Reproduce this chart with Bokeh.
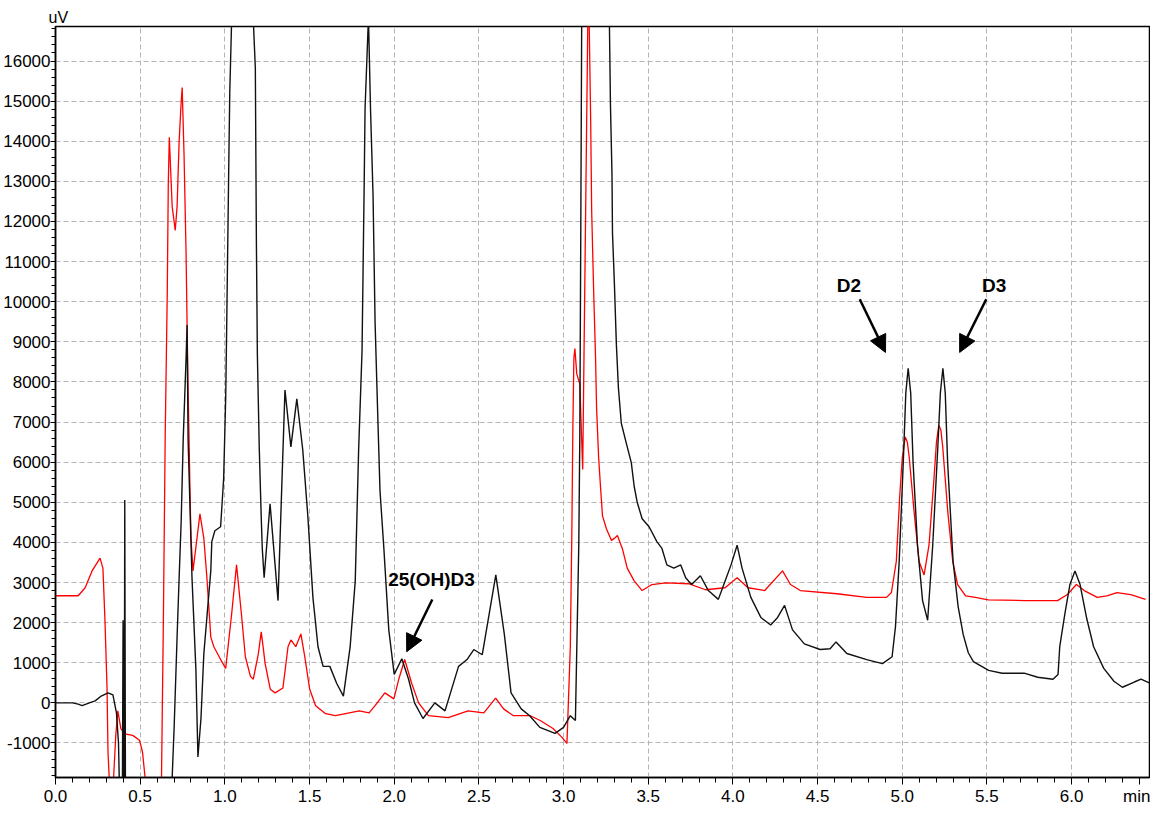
from bokeh.plotting import figure
from bokeh.models import (Range1d, SingleIntervalTicker, FixedTicker,
                          NumeralTickFormatter, Label, Arrow, NormalHead)
from bokeh.embed import file_html
from bokeh.resources import INLINE

# ---------------- data (retention time in min, signal in uV) ----------------
black_t = [0.0, 0.10, 0.134, 0.157, 0.20, 0.234, 0.27, 0.31, 0.339, 0.36, 0.372,
           0.378, 0.395, 0.399, 0.403, 0.406, 0.409, 0.413, 0.68, 0.689, 0.701,
           0.718, 0.730, 0.742, 0.754, 0.771, 0.777, 0.783, 0.794, 0.806, 0.829,
           0.841, 0.859, 0.876, 0.894, 0.917, 0.923, 0.941, 0.975, 0.993, 1.005,
           1.011, 1.017, 1.023, 1.029, 1.040, 1.10, 1.16, 1.180, 1.186, 1.192,
           1.203, 1.215, 1.221, 1.232, 1.267, 1.314, 1.355, 1.39, 1.425, 1.46,
           1.49, 1.52, 1.55, 1.58, 1.62, 1.66, 1.70, 1.74, 1.77, 1.79, 1.81,
           1.822, 1.828, 1.848, 1.860, 1.875, 1.887, 1.904, 1.916, 1.939, 1.968,
           2.0, 2.045, 2.085, 2.12, 2.17, 2.24, 2.30, 2.38, 2.43, 2.47, 2.52,
           2.60, 2.65, 2.69, 2.75, 2.80, 2.86, 2.95, 3.00, 3.04, 3.07, 3.09,
           3.096, 3.102, 3.107, 3.15, 3.22, 3.271, 3.277, 3.286, 3.289, 3.300,
           3.312, 3.324, 3.341, 3.370, 3.400, 3.417, 3.435, 3.464, 3.505, 3.551,
           3.581, 3.610, 3.651, 3.692, 3.721, 3.756, 3.808, 3.855, 3.914, 3.954,
           3.989, 4.025, 4.054, 4.106, 4.165, 4.223, 4.264, 4.305, 4.352, 4.422,
           4.515, 4.574, 4.609, 4.673, 4.790, 4.883, 4.94, 4.96, 4.982, 5.006,
           5.021, 5.035, 5.050, 5.064, 5.09, 5.12, 5.15, 5.18, 5.21, 5.225,
           5.24, 5.254, 5.268, 5.30, 5.33,
           5.36, 5.39, 5.42, 5.51, 5.59, 5.72, 5.80, 5.89, 5.92, 5.93, 5.96,
           5.99, 6.02, 6.05, 6.09, 6.13, 6.19, 6.25, 6.30, 6.37, 6.41, 6.50]
black_uv = [0, 0, -30, -70, 0, 50, 170, 250, 200, -250, -1000,
            -2200, -2200, 2060, -2200, -2200, 5060, -2200, -2200, -1860, -560,
            1640, 3120, 4510, 6550, 8590, 9420, 6550, 4910, 3120, 830,
            -1350, -390, 1230, 2130, 3290, 4020, 4290, 4390, 5600, 7610,
            9420, 11390, 13350, 15210, 17000, 19500, 17800, 15830, 11630, 8690,
            6380, 4600, 3850, 3120, 4960, 2550, 7800, 6380, 7580, 6310,
            4660, 2630, 1400, 910, 910, 490, 170, 1400, 3040, 6310, 8760,
            12680, 14820, 17100, 14820, 12680, 9500, 7000, 5300, 3850, 1820,
            710, 1100, 590, 0, -390, 0, -200, 910, 1080, 1330, 1200,
            3190, 1720, 250, -150, -320, -610, -760, -610, -320, -440, 3950,
            6630, 11950, 16860, 19500, 19500, 16860, 14900, 13180, 11710, 10480,
            8930, 7850, 6970, 6480, 5990, 5400, 5000, 4590, 4390, 4020,
            3850, 3440, 3360, 3440, 3120, 2950, 3170, 2800, 2580, 3040,
            3440, 3930, 3360, 2630, 2130, 1940, 2130, 2430, 1820, 1470,
            1330, 1350, 1520, 1230, 1080, 980, 1150, 1900, 3530, 5990,
            7720, 8340, 7720, 5990, 3930, 2550, 2060, 3930, 6380, 7720,
            8340, 7720, 5990, 3530, 2400,
            1700, 1250, 1030, 810, 740, 740, 640, 590, 710, 1400, 2210,
            2950, 3290, 2950, 2090, 1400, 860, 540, 390, 520, 590, 420]

red_t = [0.0, 0.134, 0.175, 0.216, 0.263, 0.280, 0.292, 0.304, 0.310, 0.321,
         0.339, 0.356, 0.368, 0.386, 0.409, 0.456, 0.496, 0.514, 0.537, 0.625,
         0.637, 0.648, 0.660, 0.666, 0.672, 0.689, 0.707, 0.718, 0.730, 0.742,
         0.748, 0.759, 0.771, 0.777, 0.783, 0.789, 0.794, 0.800, 0.812, 0.853,
         0.876, 0.894, 0.917, 0.935, 0.975, 1.005, 1.040, 1.069, 1.098, 1.121,
         1.151, 1.168, 1.198, 1.215, 1.238, 1.268, 1.297, 1.343, 1.373, 1.390,
         1.419, 1.449, 1.472, 1.501, 1.536, 1.595, 1.653, 1.735, 1.793, 1.852,
         1.887, 1.945, 1.998, 2.027, 2.062, 2.103, 2.144, 2.202, 2.319, 2.436,
         2.529, 2.599, 2.646, 2.704, 2.804, 2.862, 2.938, 2.991, 3.020, 3.040,
         3.049, 3.055, 3.061, 3.067, 3.078, 3.096, 3.113, 3.125, 3.143, 3.150,
         3.160, 3.166, 3.178, 3.189, 3.195, 3.207, 3.218, 3.230, 3.253, 3.283,
         3.300, 3.318, 3.347, 3.376, 3.417, 3.464, 3.522, 3.604, 3.738, 3.838,
         3.954, 4.025, 4.089, 4.188, 4.293, 4.340, 4.398, 4.614, 4.790, 4.907,
         4.936, 4.965, 4.985, 5.000, 5.018, 5.030, 5.041, 5.070, 5.099, 5.129,
         5.158, 5.187, 5.202, 5.216, 5.228, 5.239, 5.269, 5.298, 5.327, 5.374,
         5.432, 5.508, 5.724, 5.917,
         5.975, 6.028, 6.075, 6.151, 6.209, 6.268, 6.349, 6.437]
red_uv = [2670, 2670, 2870, 3290, 3610, 3360, 2060, 420, -1230, -2200,
          -2200, -810, -200, -640, -770, -810, -930, -1230, -2200, -2200,
          2060, 6720, 10230, 12930, 14100, 12370, 11780, 12370, 13990, 14970,
          15340, 13670, 11210, 9420, 7780, 6480, 5320, 4100, 3290, 4710,
          4100, 3120, 1640, 1400, 1080, 860, 2210, 3440, 2210, 1150,
          660, 590, 1230, 1770, 980, 340, 250, 370, 1400, 1570,
          1400, 1720, 1150, 340, -70, -270, -320, -250, -200, -250,
          -70, 250, 100, 590, 1080, 490, 0, -320, -370, -200,
          -250, 120, -150, -320, -320, -440, -640, -860, -1010, 1400,
          4270, 6870, 8590, 8830, 8200, 7950, 5820, 10230, 16860, 17300,
          14580, 12270, 10230, 8590, 7360, 6130, 5400, 4660, 4340, 4050,
          4100, 4170, 3850, 3360, 3040, 2800, 2950, 2990, 2970, 2820,
          2870, 3120, 2870, 2800, 3290, 2950, 2800, 2720, 2630, 2630,
          2750, 3530, 5150, 6100, 6630, 6500, 6130, 4760, 3530, 3190,
          3930, 5570, 6500, 6920, 6800, 6380, 4760, 3530, 2950, 2670,
          2630, 2570, 2550, 2550,
          2700, 2950, 2800, 2630, 2670, 2750, 2700, 2580]

# axis ticks / unit labels
x_major_ticks = [0.0, 0.5, 1.0, 1.5, 2.0, 2.5, 3.0, 3.5, 4.0, 4.5, 5.0, 5.5, 6.0]
x_minor_ticks = [i / 10 for i in range(0, 65) if i % 5 != 0]
x_unit_tick = 6.4
x_unit = "min"
y_unit = "uV"

peak_names = ["25(OH)D3", "D2", "D3"]
peak_label_t = [2.22, 4.685, 5.543]
peak_label_uv = [3070, 10405, 10405]
arrow_start_t = [2.225, 4.749, 5.496]
arrow_start_uv = [2577, 10061, 10061]
arrow_end_t = [2.074, 4.901, 5.339]
arrow_end_uv = [1276, 8736, 8736]

x_lo, x_hi = 0.0, 6.46
y_lo, y_hi = -1860, 16860

NARROW = "Liberation Sans Narrow, Arial Narrow, Liberation Sans, sans-serif"

p = figure(width=1150, height=808, output_backend="svg", toolbar_location=None,
           x_range=Range1d(x_lo, x_hi), y_range=Range1d(y_lo, y_hi),
           min_border_left=50, min_border_right=1, min_border_top=26,
           min_border_bottom=28, title=y_unit)
p.background_fill_color = "white"
p.border_fill_color = "white"
p.outline_line_color = "black"
p.outline_line_width = 1.5

p.title.align = "left"
p.title.offset = -7
p.title.standoff = 1
p.title.text_font = NARROW
p.title.text_font_size = "16px"
p.title.text_font_style = "normal"
p.title.text_color = "black"

p.xaxis.ticker = FixedTicker(ticks=x_major_ticks + [x_unit_tick],
                             minor_ticks=x_minor_ticks)
p.xaxis.formatter = NumeralTickFormatter(format="0.0")
p.xaxis.major_label_overrides = {x_unit_tick: x_unit}
p.yaxis.ticker = SingleIntervalTicker(interval=1000, num_minor_ticks=5)
p.yaxis.formatter = NumeralTickFormatter(format="0")
p.xgrid.ticker = SingleIntervalTicker(interval=0.5)

for ax in (p.xaxis[0], p.yaxis[0]):
    ax.axis_line_color = "black"
    ax.axis_line_width = 1.5
    ax.major_tick_line_color = "black"
    ax.minor_tick_line_color = "black"
    ax.major_tick_in = 0
    ax.minor_tick_in = 0
    ax.major_label_text_font = NARROW
    ax.major_label_text_font_size = "17px"
    ax.major_label_text_color = "black"
p.xaxis.major_tick_out = 7
p.xaxis.minor_tick_out = 5
p.xaxis.major_label_standoff = 2
p.yaxis.major_tick_out = 5
p.yaxis.minor_tick_out = 4
p.yaxis.major_label_standoff = 0

for g in (p.xgrid[0], p.ygrid[0]):
    g.grid_line_color = "#b4b4b4"
    g.grid_line_dash = "5 3"
    g.grid_line_width = 1

p.line(red_t, red_uv, line_color="#ff0000", line_width=1.3)
p.line(black_t, black_uv, line_color="#111111", line_width=1.4)

for name, lx, ly, xs, ys, xe, ye in zip(peak_names, peak_label_t, peak_label_uv,
                                        arrow_start_t, arrow_start_uv,
                                        arrow_end_t, arrow_end_uv):
    p.add_layout(Label(x=lx, y=ly, text=name, text_align="center",
                       text_baseline="middle", text_font=NARROW,
                       text_font_style="bold", text_font_size="19px",
                       text_color="black"))
    p.add_layout(Arrow(x_start=xs, y_start=ys, x_end=xe, y_end=ye,
                       line_color="black", line_width=2.5,
                       end=NormalHead(size=17, fill_color="black",
                                      line_color="black", line_width=1)))

open("out.html", "w").write(file_html(p, INLINE))
